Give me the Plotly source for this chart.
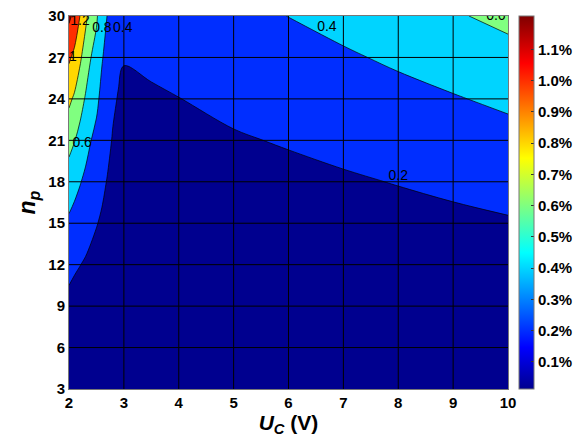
import numpy as np
import plotly.graph_objects as go

# ---------------- data ----------------
u_c = [2.0, 2.1, 2.2, 2.3, 2.4, 2.5, 2.6, 2.7, 2.8, 2.9, 3.0, 3.5, 4, 5, 6, 7, 8, 9, 10]
n_p = [3, 6, 9, 12, 15, 18, 21, 24, 27, 30]

# loss (%) — one list per U_C column, values along n_p
z_cols = [
    [0.022, 0.074, 0.151, 0.249, 0.368, 0.507, 0.663, 0.839, 1.029, 1.238],  # 2.0
    [0.019, 0.064, 0.133, 0.223, 0.332, 0.460, 0.607, 0.771, 0.951, 1.149],  # 2.1
    [0.018, 0.061, 0.123, 0.203, 0.299, 0.411, 0.537, 0.678, 0.832, 0.999],  # 2.2
    [0.018, 0.058, 0.114, 0.184, 0.267, 0.362, 0.468, 0.584, 0.710, 0.846],  # 2.3
    [0.018, 0.054, 0.103, 0.164, 0.234, 0.314, 0.402, 0.497, 0.601, 0.711],  # 2.4
    [0.016, 0.048, 0.091, 0.145, 0.207, 0.277, 0.354, 0.439, 0.530, 0.627],  # 2.5
    [0.018, 0.049, 0.087, 0.131, 0.180, 0.232, 0.289, 0.350, 0.413, 0.480],  # 2.6
    [0.016, 0.041, 0.073, 0.109, 0.149, 0.192, 0.239, 0.289, 0.340, 0.394],  # 2.7
    [0.015, 0.037, 0.062, 0.090, 0.121, 0.154, 0.188, 0.224, 0.261, 0.300],  # 2.8
    [0.008, 0.023, 0.042, 0.066, 0.093, 0.123, 0.156, 0.191, 0.229, 0.270],  # 2.9
    [0.004, 0.014, 0.029, 0.048, 0.072, 0.100, 0.132, 0.168, 0.208, 0.252],  # 3.0
    [0.004, 0.015, 0.031, 0.052, 0.078, 0.109, 0.143, 0.182, 0.226, 0.273],  # 3.5
    [0.005, 0.016, 0.034, 0.057, 0.085, 0.118, 0.155, 0.198, 0.244, 0.295],  # 4
    [0.006, 0.020, 0.041, 0.068, 0.102, 0.141, 0.186, 0.237, 0.293, 0.354],  # 5
    [0.006, 0.022, 0.046, 0.077, 0.116, 0.160, 0.212, 0.269, 0.333, 0.402],  # 6
    [0.007, 0.025, 0.052, 0.088, 0.131, 0.182, 0.241, 0.306, 0.378, 0.457],  # 7
    [0.008, 0.029, 0.059, 0.099, 0.148, 0.206, 0.272, 0.346, 0.428, 0.517],  # 8
    [0.009, 0.032, 0.067, 0.112, 0.167, 0.231, 0.305, 0.388, 0.480, 0.580],  # 9
    [0.010, 0.036, 0.074, 0.125, 0.186, 0.259, 0.341, 0.434, 0.537, 0.649],  # 10
]

levels_start, levels_end, levels_step = 0.2, 1.2, 0.2
x_ticks = [2, 3, 4, 5, 6, 7, 8, 9, 10]
y_ticks = [3, 6, 9, 12, 15, 18, 21, 24, 27, 30]
cbar_ticks = [0.1, 0.2, 0.3, 0.4, 0.5, 0.6, 0.7, 0.8, 0.9, 1.0, 1.1]
cbar_min, cbar_max = 0.013, 1.207

label_text = ["1.2", "0.8", "0.4", "1", "0.6", "0.4", "0.6", "0.2"]
label_x = [2.2, 2.6, 2.98, 2.07, 2.24, 6.7, 9.78, 8.0]
label_y = [29.6, 29.1, 29.1, 27.0, 20.8, 29.2, 30.0, 18.4]

# ---------------- styling ----------------
jet = [[0.0, "rgb(0,0,143)"], [0.111, "rgb(0,0,255)"], [0.365, "rgb(0,255,255)"],
       [0.619, "rgb(255,255,0)"], [0.873, "rgb(255,0,0)"], [1.0, "rgb(128,0,0)"]]
band_colors = ["rgb(0,0,143)", "rgb(0,46,255)", "rgb(0,212,255)", "rgb(128,255,128)",
               "rgb(255,215,0)", "rgb(255,46,0)", "rgb(134,0,0)"]
nb = len(band_colors)
stepped = []
for i, c in enumerate(band_colors):
    lo = 0.0 if i == 0 else (i - 0.5) / (nb - 1)
    hi = 1.0 if i == nb - 1 else (i + 0.5) / (nb - 1)
    stepped.append([lo, c])
    stepped.append([hi, c])

z = np.array(z_cols).T

FONT = "Liberation Sans, Arial, sans-serif"

fig = go.Figure()
fig.add_trace(go.Contour(
    x=u_c, y=n_p, z=z,
    colorscale=stepped, showscale=False,
    contours=dict(start=levels_start, end=levels_end, size=levels_step,
                  coloring="fill", showlabels=False),
    line=dict(color="black", width=0.7, smoothing=1),
    hoverinfo="skip",
))

# continuous colorbar like MATLAB's
fig.add_trace(go.Scatter(
    x=[u_c[0]], y=[n_p[0]], mode="markers",
    marker=dict(size=1, opacity=0, color=[cbar_min], cmin=cbar_min, cmax=cbar_max,
                colorscale=jet, showscale=True,
                colorbar=dict(
                    x=(519 - 69) / 439, xanchor="left", xpad=0,
                    y=0.5, yanchor="middle", len=1.0, lenmode="fraction", ypad=0,
                    thickness=15, thicknessmode="pixels",
                    outlinewidth=1, outlinecolor="#777",
                    tickvals=cbar_ticks, ticktext=[f"{v:.1f}%" for v in cbar_ticks],
                    ticks="inside", ticklen=3, tickcolor="#333",
                    tickfont=dict(family=FONT, size=15, color="black", weight="bold"),
                )),
    showlegend=False, hoverinfo="skip",
))

# contour labels
fig.add_trace(go.Scatter(
    x=label_x, y=label_y, text=label_text, mode="text",
    textfont=dict(family=FONT, size=14, color="black"),
    showlegend=False, hoverinfo="skip", cliponaxis=True,
))

# black grid lines on top
for t in x_ticks[1:-1]:
    fig.add_vline(x=t, line=dict(color="black", width=1))
for t in y_ticks[1:-1]:
    fig.add_hline(y=t, line=dict(color="black", width=1))

fig.update_xaxes(
    range=[x_ticks[0], x_ticks[-1]], tickvals=x_ticks, showgrid=False, zeroline=False,
    showline=True, mirror=True, linecolor="#777", linewidth=1, ticks="",
    tickfont=dict(family=FONT, size=15, color="black", weight="bold"),
    title=dict(text="<i>U</i><sub><i>C</i></sub> (V)", standoff=4,
               font=dict(family=FONT, size=21, color="black", weight="bold")),
)
fig.update_yaxes(
    range=[y_ticks[0], y_ticks[-1]], tickvals=y_ticks, showgrid=False, zeroline=False,
    showline=True, mirror=True, linecolor="#777", linewidth=1, ticks="",
    tickfont=dict(family=FONT, size=15, color="black", weight="bold"),
    title=dict(text="<i>n</i><sub><i>p</i></sub>", standoff=6,
               font=dict(family=FONT, size=23, color="black", weight="bold")),
)
fig.update_layout(
    width=577, height=443,
    margin=dict(l=69, r=69, t=16, b=54, autoexpand=False),
    paper_bgcolor="white", plot_bgcolor="white",
    showlegend=False,
)
fig.write_html("out.html")
